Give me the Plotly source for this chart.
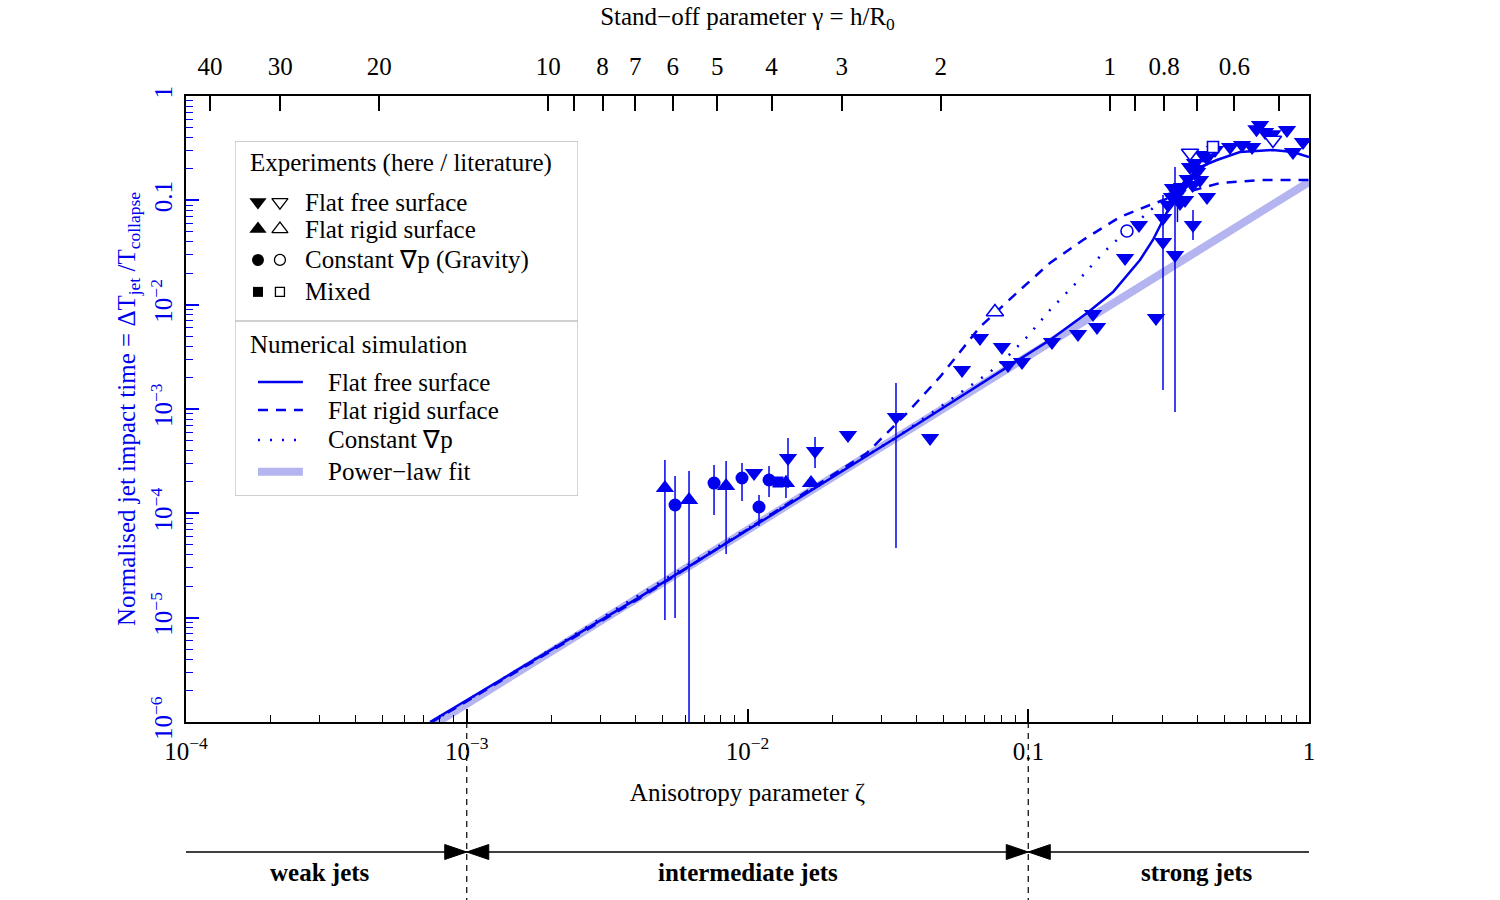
import math
import plotly.graph_objects as go

BLUE = "#0000ee"
FIT_COLOR = "#b4b4f0"
FONT = "Liberation Serif, Times New Roman, serif"
FS = 25

# ---------------- axis ranges ----------------
zeta_range = [1e-4, 1.0]
time_range = [1e-6, 1.0]

x_tickvals = [1e-4, 1e-3, 1e-2, 0.1, 1]
x_ticktext = ["10<sup>\u22124</sup>", "10<sup>\u22123</sup>", "10<sup>\u22122</sup>", "0.1", "1"]
y_tickvals = [1e-6, 1e-5, 1e-4, 1e-3, 1e-2, 0.1, 1]
y_ticktext = ["10<sup>\u22126</sup>", "10<sup>\u22125</sup>", "10<sup>\u22124</sup>",
              "10<sup>\u22123</sup>", "10<sup>\u22122</sup>", "0.1", "1"]

# top axis: stand-off parameter gamma, zeta = 0.195 * gamma^-2
gamma_ticks = [40, 30, 20, 10, 9, 8, 7, 6, 5, 4, 3, 2, 1, 0.9, 0.8, 0.7, 0.6, 0.5]
gamma_labels = ["40", "30", "20", "10", "", "8", "7", "6", "5", "4", "3", "2", "1", "", "0.8", "", "0.6", ""]
zeta_per_gamma = 0.195

# ---------------- experiments ----------------
# Flat free surface (this work) - filled down triangles
ffs_zeta = [0.01055, 0.01394, 0.0174, 0.0228, 0.0338, 0.0447, 0.0581, 0.0673, 0.0806, 0.0847,
            0.0950, 0.1215, 0.1504, 0.1701, 0.1758, 0.2212, 0.2480, 0.2851, 0.3020, 0.3020,
            0.3332, 0.3862, 0.3279, 0.3528, 0.3251, 0.3617, 0.3471, 0.3768, 0.3927, 0.4195,
            0.4332, 0.4332, 0.3993, 0.4090, 0.4626, 0.5235, 0.5775, 0.6270, 0.6694, 0.6973,
            0.8348, 0.8769, 0.9519, 0.3400, 0.3700, 0.3850, 0.4000, 0.3150, 0.6500, 0.7400]
ffs_time = [2.434e-4, 3.39e-4, 3.96e-4, 5.63e-4, 8.38e-4, 5.27e-4, 2.364e-3, 4.79e-3, 3.93e-3, 2.64e-3,
            2.82e-3, 4.39e-3, 5.23e-3, 8.14e-3, 6.11e-3, 0.0280, 0.0580, 7.45e-3, 0.0677, 0.0399,
            0.0299, 0.0580, 0.1313, 0.1342, 0.1076, 0.1007, 0.0943, 0.2087, 0.2280, 0.2720,
            0.2545, 0.1076, 0.1869, 0.1566, 0.3037, 0.3244, 0.3392, 0.3244, 0.5273, 0.4517,
            0.4721, 0.2905, 0.3623, 0.1150, 0.1600, 0.1400, 0.2000, 0.0900, 0.4800, 0.4300]
ffs_hi = [None, 5.27e-4, 5.39e-4, None, 1.774e-3, None, None, None, None, None,
          None, None, None, None, None, None, None, None, 0.1125, None,
          0.2087, 0.0808, None, None, None, None, None, None, None, None,
          None, None, None, None, None, None, None, None, None, None,
          None, None, None, 0.145, None, None, None, None, None, None]
ffs_lo = [None, 1.748e-4, 2.72e-4, None, 4.65e-5, None, None, None, None, None,
          None, None, None, None, None, None, None, None, 1.52e-3, None,
          9.35e-4, 0.0417, None, None, None, None, None, None, None, None,
          None, None, None, None, None, None, None, None, None, None,
          None, None, None, 0.062, None, None, None, None, None, None]
# Flat free surface (literature) - open down triangles
ffs_lit_zeta = [0.3768, 0.744]
ffs_lit_time = [0.2843, 0.3788]

# Flat rigid surface (this work) - filled up triangles
frs_zeta = [5.08e-3, 6.19e-3, 8.39e-3, 0.01371, 0.01684]
frs_time = [1.748e-4, 1.342e-4, 1.827e-4, 1.952e-4, 1.952e-4]
frs_hi = [3.24e-4, 2.55e-4, 3.17e-4, 2.3e-4, None]
frs_lo = [9.5e-6, 1e-7, 4.07e-5, 1.4e-4, None]
# Flat rigid surface (literature) - open up triangle
frs_lit_zeta = [0.0761]
frs_lit_time = [8.50e-3]

# Constant pressure gradient / gravity (this work) - filled circles
grav_zeta = [5.52e-3, 7.60e-3, 9.56e-3, 0.01099, 0.01193]
grav_time = [1.202e-4, 1.952e-4, 2.18e-4, 1.150e-4, 2.087e-4]
grav_hi = [2.28e-4, 2.90e-4, 3.04e-4, 1.498e-4, 2.84e-4]
grav_lo = [9.92e-6, 9.64e-5, 1.31e-4, 7.56e-5, 1.433e-4]
# Gravity (literature) - open circle
grav_lit_zeta = [0.2247]
grav_lit_time = [0.0508]

# Mixed (this work / literature) - squares
mixed_zeta = [0.01284]
mixed_time = [1.996e-4]
mixed_lit_zeta = [0.455]
mixed_lit_time = [0.3244]

# ---------------- numerical simulations ----------------
sim_free_zeta = [7.40e-4, 4.14e-3, 0.0341, 0.0840, 0.1195, 0.162, 0.2004, 0.250, 0.278, 0.302,
                 0.328, 0.356, 0.409, 0.470, 0.5677, 0.744, 0.877, 1.0]
sim_free_time = [1.0e-6, 1.58e-5, 5.39e-4, 2.53e-3, 4.58e-3, 8.32e-3, 0.0132, 0.0268, 0.0417, 0.0648,
                 0.1007, 0.1466, 0.2087, 0.2435, 0.2905, 0.3037, 0.2905, 0.260]

sim_rigid_zeta = [7.52e-4, 4.14e-3, 0.02664, 0.03699, 0.04848, 0.06731, 0.09345, 0.1195, 0.1567,
                  0.2122, 0.2714, 0.3471, 0.4819, 0.669, 1.0]
sim_rigid_time = [1.0e-6, 1.54e-5, 3.79e-4, 9.16e-4, 2.03e-3, 6.11e-3, 0.01383, 0.02508, 0.0417,
                  0.0692, 0.0902, 0.115, 0.1466, 0.1566, 0.1566]

sim_grad_zeta = [7.52e-4, 0.0341, 0.0731, 0.0840, 0.0990, 0.1195, 0.1492, 0.1846, 0.2122, 0.2604, 0.3198]
sim_grad_time = [1.0e-6, 5.39e-4, 2.26e-3, 3.15e-3, 4.90e-3, 8.89e-3, 0.0165, 0.0313, 0.0445, 0.0724, 0.1175]

# power-law fit (straight line in log-log), end points
fit_zeta = [1e-4, 1.0]
fit_time = [3.2e-8, 0.15]

# regimes
regime_bounds = [1e-3, 0.1]
regime_labels = ["weak jets", "intermediate jets", "strong jets"]
regime_label_zeta = [3.0e-4, 1e-2, 0.40]


def errs(y, hi, lo):
    plus = [(h - v) if h is not None else 0 for v, h in zip(y, hi)]
    minus = [(v - l) if l is not None else 0 for v, l in zip(y, lo)]
    return plus, minus


def px_frac(z):
    a, b = math.log10(zeta_range[0]), math.log10(zeta_range[1])
    return (math.log10(z) - a) / (b - a)


fig = go.Figure()

# fit
fig.add_trace(go.Scatter(x=fit_zeta, y=fit_time, mode="lines",
                         line=dict(color=FIT_COLOR, width=8), hoverinfo="skip"))
# simulations
fig.add_trace(go.Scatter(x=sim_free_zeta, y=sim_free_time, mode="lines",
                         line=dict(color=BLUE, width=2.5)))
fig.add_trace(go.Scatter(x=sim_rigid_zeta, y=sim_rigid_time, mode="lines",
                         line=dict(color=BLUE, width=2.5, dash="10px,8px")))
fig.add_trace(go.Scatter(x=sim_grad_zeta, y=sim_grad_time, mode="lines",
                         line=dict(color=BLUE, width=2.5, dash="2px,10px")))


def exp_trace(x, y, symbol, size, filled, hi=None, lo=None):
    kw = {}
    if hi is not None:
        p, m = errs(y, hi, lo)
        kw["error_y"] = dict(type="data", symmetric=False, array=p, arrayminus=m,
                             color=BLUE, thickness=1.5, width=0)
    marker = dict(symbol=symbol, size=size,
                  color=BLUE if filled else "white",
                  line=dict(color=BLUE, width=0 if filled else 1.6))
    return go.Scatter(x=x, y=y, mode="markers", marker=marker, **kw)


fig.add_trace(exp_trace(frs_zeta, frs_time, "triangle-up", 16, True, frs_hi, frs_lo))
fig.add_trace(exp_trace(grav_zeta, grav_time, "circle", 13, True, grav_hi, grav_lo))
fig.add_trace(exp_trace(mixed_zeta, mixed_time, "square", 11, True))
fig.add_trace(exp_trace(ffs_zeta, ffs_time, "triangle-down", 16, True, ffs_hi, ffs_lo))
fig.add_trace(exp_trace(ffs_lit_zeta, ffs_lit_time, "triangle-down", 15, False))
fig.add_trace(exp_trace(frs_lit_zeta, frs_lit_time, "triangle-up", 15, False))
fig.add_trace(exp_trace(grav_lit_zeta, grav_lit_time, "circle", 12, False))
fig.add_trace(exp_trace(mixed_lit_zeta, mixed_lit_time, "square", 11, False))

# invisible trace to activate top axis
fig.add_trace(go.Scatter(x=fit_zeta, y=fit_time, xaxis="x2", yaxis="y", mode="lines",
                         line=dict(width=0), opacity=0, hoverinfo="skip"))

# ---------------- custom legend (subplot x3/y3) ----------------
leg_exp = [("triangle-down", "Flat free surface", 0.828),
           ("triangle-up", "Flat rigid surface", 0.752),
           ("circle", "Constant \u2207p (Gravity)", 0.665),
           ("square", "Mixed", 0.575)]
leg_sim = [("solid", "Flat free surface", 0.321),
           ("10px,8px", "Flat rigid surface", 0.242),
           ("2px,10px", "Constant \u2207p", 0.158),
           ("fit", "Power\u2212law fit", 0.068)]
sym_size = {"triangle-down": 15, "triangle-up": 15, "circle": 12, "square": 10}
annotations = []
for sym, label, yy in leg_exp:
    fig.add_trace(go.Scatter(x=[0.067], y=[yy], xaxis="x3", yaxis="y3", mode="markers",
                             marker=dict(symbol=sym, size=sym_size[sym], color="black",
                                         line=dict(width=0))))
    fig.add_trace(go.Scatter(x=[0.131], y=[yy], xaxis="x3", yaxis="y3", mode="markers",
                             marker=dict(symbol=sym, size=sym_size[sym] - 1, color="white",
                                         line=dict(color="black", width=1.3))))
    annotations.append(dict(x=0.198, y=yy, xref="x3", yref="y3", text=label, showarrow=False,
                            xanchor="left", yanchor="middle", font=dict(size=FS, family=FONT, color="black")))
for dash, label, yy in leg_sim:
    if dash == "fit":
        line = dict(color=FIT_COLOR, width=8)
    else:
        line = dict(color=BLUE, width=2.5, dash=dash)
    fig.add_trace(go.Scatter(x=[0.067, 0.198], y=[yy, yy], xaxis="x3", yaxis="y3", mode="lines", line=line))
    annotations.append(dict(x=0.265, y=yy, xref="x3", yref="y3", text=label, showarrow=False,
                            xanchor="left", yanchor="middle", font=dict(size=FS, family=FONT, color="black")))
annotations.append(dict(x=0.038, y=0.938, xref="x3", yref="y3", text="Experiments (here / literature)",
                        showarrow=False, xanchor="left", yanchor="middle",
                        font=dict(size=FS, family=FONT, color="black")))
annotations.append(dict(x=0.038, y=0.428, xref="x3", yref="y3", text="Numerical simulation",
                        showarrow=False, xanchor="left", yanchor="middle",
                        font=dict(size=FS, family=FONT, color="black")))

shapes = [
    dict(type="rect", xref="x3", yref="y3", x0=0, x1=1, y0=0, y1=1,
         line=dict(color="#c0c0c0", width=1.3)),
    dict(type="line", xref="x3", yref="y3", x0=0, x1=1, y0=0.493, y1=0.493,
         line=dict(color="#c0c0c0", width=1.3)),
]

# ---------------- regime bar below the plot ----------------
plot_h = 900 - 96 - 178
plot_w = 1500 - 186 - 191
bar_y = -130 / plot_h
bottom_y = -178 / plot_h
label_y = -150 / plot_h
aw, ah = 22 / plot_w, 15 / plot_h
shapes.append(dict(type="line", xref="paper", yref="paper", x0=0, x1=1, y0=bar_y, y1=bar_y,
                   line=dict(color="black", width=1.5)))
for b in regime_bounds:
    xb = px_frac(b)
    shapes.append(dict(type="line", xref="paper", yref="paper", x0=xb, x1=xb, y0=0, y1=bottom_y,
                       line=dict(color="black", width=1.2, dash="6px,5px")))
    shapes.append(dict(type="path", xref="paper", yref="paper",
                       path=f"M {xb - aw} {bar_y + ah / 2} L {xb} {bar_y} L {xb - aw} {bar_y - ah / 2} Z",
                       fillcolor="black", line=dict(color="black", width=1)))
    shapes.append(dict(type="path", xref="paper", yref="paper",
                       path=f"M {xb + aw} {bar_y + ah / 2} L {xb} {bar_y} L {xb + aw} {bar_y - ah / 2} Z",
                       fillcolor="black", line=dict(color="black", width=1)))
for lab, z in zip(regime_labels, regime_label_zeta):
    annotations.append(dict(x=px_frac(z), y=label_y, xref="paper", yref="paper", text=f"<b>{lab}</b>",
                            showarrow=False, xanchor="center", yanchor="middle",
                            font=dict(size=FS, family=FONT, color="black")))

# minor ticks
minor_x = [m * 10 ** e for e in range(-4, 0) for m in range(2, 10)]
minor_y = [m * 10 ** e for e in range(-6, 0) for m in range(2, 10)]

tickfont = dict(size=FS, family=FONT, color="black")
fig.update_layout(
    width=1500, height=900,
    margin=dict(l=186, r=191, t=96, b=178),
    paper_bgcolor="white", plot_bgcolor="white",
    showlegend=False,
    font=dict(family=FONT, size=FS, color="black"),
    xaxis=dict(type="log", range=[math.log10(zeta_range[0]), math.log10(zeta_range[1])],
               tickmode="array", tickvals=x_tickvals, ticktext=x_ticktext,
               ticks="inside", ticklen=13, tickwidth=1.5, tickcolor="black",
               showline=True, linecolor="black", linewidth=1.5, mirror=True,
               showgrid=False, zeroline=False, tickfont=tickfont, ticklabelstandoff=6,
               minor=dict(tickvals=minor_x, ticks="inside", ticklen=7, tickwidth=1.2,
                          tickcolor="black", showgrid=False),
               title=dict(text="Anisotropy parameter \u03b6", font=dict(size=FS, family=FONT), standoff=20)),
    xaxis2=dict(type="log", overlaying="x", side="top", anchor="y",
                range=[math.log10(zeta_range[0]), math.log10(zeta_range[1])],
                tickmode="array", tickvals=[zeta_per_gamma / g ** 2 for g in gamma_ticks],
                ticktext=gamma_labels, ticks="inside", ticklen=15, tickwidth=1.5, tickcolor="black",
                showline=True, linecolor="black", linewidth=1.5, showgrid=False, zeroline=False,
                tickfont=tickfont, ticklabelstandoff=9,
                title=dict(text="Stand\u2212off parameter \u03b3 = h/R<sub>0</sub>",
                           font=dict(size=FS, family=FONT), standoff=21)),
    yaxis=dict(type="log", range=[math.log10(time_range[0]), math.log10(time_range[1])],
               tickmode="array", tickvals=y_tickvals, ticktext=y_ticktext, tickangle=-90,
               ticks="inside", ticklen=13, tickwidth=1.5, tickcolor=BLUE,
               showline=True, linecolor="black", linewidth=1.5, mirror=True,
               showgrid=False, zeroline=False,
               tickfont=dict(size=FS, family=FONT, color=BLUE), ticklabelstandoff=2,
               minor=dict(tickvals=minor_y, ticks="inside", ticklen=7, tickwidth=1.2,
                          tickcolor=BLUE, showgrid=False),
               title=dict(text="Normalised jet impact time = \u0394T<sub>jet</sub> /T<sub>collapse</sub>",
                          font=dict(size=FS, family=FONT, color=BLUE), standoff=3)),
    xaxis3=dict(domain=[49 / plot_w, 392 / plot_w], range=[0, 1], visible=False, anchor="y3"),
    yaxis3=dict(domain=[226 / plot_h, 581 / plot_h], range=[0, 1], visible=False, anchor="x3"),
    shapes=shapes,
    annotations=annotations,
)

fig.write_html("out.html")
